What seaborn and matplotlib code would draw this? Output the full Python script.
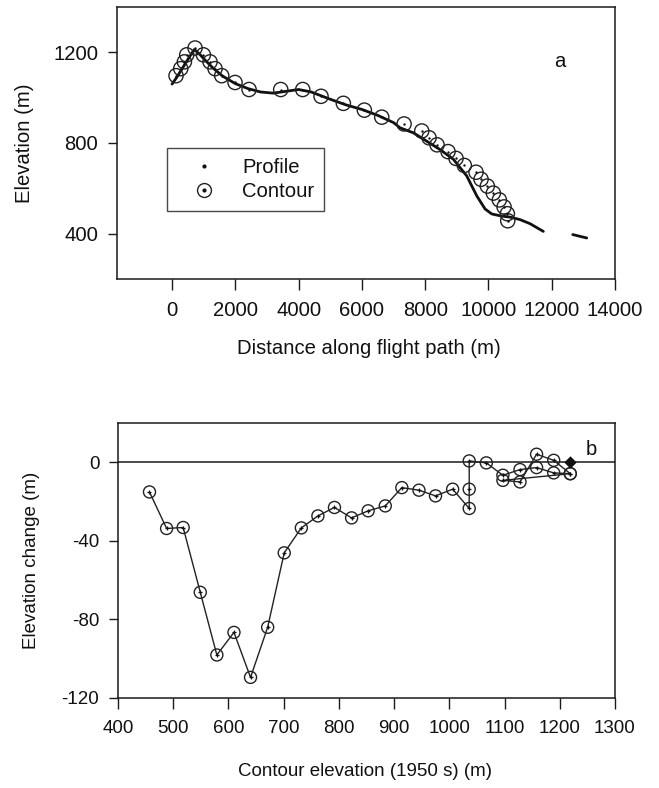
import numpy as np
import pandas as pd
import matplotlib
matplotlib.use("Agg")
import matplotlib.pyplot as plt
from matplotlib.lines import Line2D
import seaborn as sns

# ---------------- data: panel a ----------------
# flight profile (distance m, elevation m), segment id for gaps
profile_dist = [0, 150, 350, 550, 700, 850, 1050, 1300, 1600, 2000, 2400, 2800,
                3200, 3600, 4000, 4400, 5000, 5500, 6000, 6500, 7000, 7206, 7627,
                8049, 8470, 8893, 9313, 9630, 9893, 10104, 10400, 10683, 10999,
                11315, 11735,
                12664, 12900, 13106]
profile_elev = [1060, 1090, 1135, 1180, 1212, 1195, 1165, 1130, 1095, 1062, 1040,
                1025, 1020, 1028, 1036, 1025, 993, 968, 948, 922, 890, 867, 845,
                808, 771, 728, 655, 567, 509, 487, 478, 473, 462,
                444, 410,
                396, 388, 381]
profile_seg = [0] * 35 + [1] * 3

# 1950s contours crossed by the path (distance m, contour elevation m)
contour_dist = [126, 274, 390, 464, 727, 990, 1201, 1359, 1570, 1991, 2434, 3435,
                4130, 4709, 5414, 6078, 6628, 7333, 7892, 8123, 8376, 8723, 8976,
                9238, 9608, 9766, 9965, 10155, 10345, 10493, 10597, 10610]
contour_elev = [1097, 1128, 1158, 1189, 1219, 1189, 1158, 1128, 1097, 1067, 1036,
                1036, 1036, 1006, 975, 945, 914, 884, 853, 823, 792, 762, 732,
                701, 671, 640, 610, 579, 549, 518, 488, 457]

# ---------------- data: panel b ----------------
b_contour = [457, 488, 518, 549, 579, 610, 640, 671, 701, 732, 762, 792, 823, 853,
             884, 914, 945, 975, 1006, 1036, 1036, 1036, 1067, 1097, 1128, 1158,
             1189, 1219, 1097, 1128, 1158, 1189, 1219]
b_change = [-15.1, -33.7, -33.2, -66.2, -98.1, -86.6, -109.5, -84.0, -46.1, -33.4,
            -27.3, -23.0, -28.3, -24.7, -22.2, -12.9, -14.2, -17.1, -13.7, -23.5,
            -13.7, 0.7, -0.3, -6.6, -3.7, -2.7, -5.4, -5.8, -9.2, -10.0, 4.1, 1.0,
            -5.8]
summit_x = [1219]
summit_y = [0]

a_xticks = [0, 2000, 4000, 6000, 8000, 10000, 12000, 14000]
a_yticks = [400, 800, 1200]
b_xticks = [400, 500, 600, 700, 800, 900, 1000, 1100, 1200, 1300]
b_yticks = [-120, -80, -40, 0]

# ---------------- style ----------------
sns.set_theme(style="white")
plt.rcParams["font.family"] = ["Liberation Sans", "DejaVu Sans"]
plt.rcParams["axes.unicode_minus"] = False
FSA = 14.6   # panel a text
FSB = 13.5   # panel b text
ink = "#1a1a1a"
txt = "#111111"

W, H = 659, 788
fig = plt.figure(figsize=(W / 100, H / 100), dpi=100)
fig.patch.set_facecolor("white")

def fx(px):
    return px / W

def fy(py):
    return 1 - py / H

axa = fig.add_axes([fx(117), fy(279), fx(615) - fx(117), fy(7) - fy(279)])
axb = fig.add_axes([fx(118), fy(698), fx(615) - fx(118), fy(423) - fy(698)])

for ax, fs in ((axa, FSA), (axb, FSB)):
    ax.set_facecolor("white")
    for s in ax.spines.values():
        s.set_color(ink)
        s.set_linewidth(1.1)
        s.set_visible(True)
    ax.tick_params(axis="both", which="major", direction="out", colors=ink,
                   labelcolor=txt, labelsize=fs, width=1.0)
    ax.tick_params(axis="x", length=8, pad=7.5, bottom=True)
    ax.tick_params(axis="y", length=6.5, pad=7, left=True)
    ax.grid(False)

# ---- panel a ----
prof = pd.DataFrame({"d": profile_dist, "e": profile_elev, "seg": profile_seg})
sns.lineplot(data=prof, x="d", y="e", units="seg", estimator=None, sort=False,
             color=txt, linewidth=2.0, ax=axa, legend=False)
sns.scatterplot(x=contour_dist, y=contour_elev, marker="o", s=105,
                facecolor="none", edgecolor="#222222", linewidth=1.0, ax=axa,
                zorder=3)
sns.scatterplot(x=contour_dist, y=contour_elev, marker="o", s=3, color=txt,
                linewidth=0, ax=axa, zorder=4)
axa.set_xlim(-1740, 14000)
axa.set_ylim(200, 1400)
axa.set_xticks(a_xticks)
axa.set_yticks(a_yticks)
axa.set_xticklabels([str(v) for v in a_xticks])
axa.set_yticklabels([str(v) for v in a_yticks])
axa.set_xlabel("Distance along flight path (m)", fontsize=FSA, color=txt)
axa.set_ylabel("Elevation (m)", fontsize=FSA, color=txt)
axa.xaxis.set_label_coords(fx(369), fy(339), transform=fig.transFigure)
axa.yaxis.set_label_coords(fx(34), fy(143), transform=fig.transFigure)
axa.text(0.889, 0.8, "a", transform=axa.transAxes, fontsize=FSA,
         ha="center", va="center", color=txt)

h_prof = Line2D([], [], linestyle="none", marker="o", markersize=2, color=txt)
h_circ = Line2D([], [], linestyle="none", marker="o", markersize=10,
                markerfacecolor="none", markeredgecolor="#222222",
                markeredgewidth=1.0)
h_dot = Line2D([], [], linestyle="none", marker="o", markersize=2, color=txt)
leg = axa.legend([h_prof, (h_circ, h_dot)], ["Profile", "Contour"],
                 loc="upper left", bbox_to_anchor=(fx(167), fy(148)),
                 bbox_transform=fig.transFigure, borderaxespad=0,
                 fontsize=FSA, frameon=True, fancybox=False,
                 borderpad=0.5, handlelength=2.6, handletextpad=0.6,
                 labelspacing=0.25)
leg.get_frame().set_edgecolor(ink)
leg.get_frame().set_linewidth(1.0)
for t in leg.get_texts():
    t.set_color(txt)

# ---- panel b ----
axb.axhline(0, color=ink, linewidth=1.1, zorder=1)
sns.lineplot(x=b_contour, y=b_change, sort=False, estimator=None,
             color="#222222", linewidth=1.0, ax=axb, legend=False)
sns.scatterplot(x=b_contour, y=b_change, marker="o", s=75, facecolor="none",
                edgecolor="#222222", linewidth=1.0, ax=axb, zorder=3)
sns.scatterplot(x=b_contour, y=b_change, marker="+", s=12, color=txt,
                linewidth=0.9, ax=axb, zorder=4)
sns.scatterplot(x=summit_x, y=summit_y, marker="D", s=40, color=txt,
                linewidth=0, ax=axb, zorder=5)
axb.set_xlim(400, 1300)
axb.set_ylim(-120, 20)
axb.set_xticks(b_xticks)
axb.set_yticks(b_yticks)
axb.set_xticklabels([str(v) for v in b_xticks])
axb.set_yticklabels([str(v) for v in b_yticks])
axb.set_xlabel("Contour elevation (1950 s) (m)", fontsize=FSB, color=txt)
axb.set_ylabel("Elevation change (m)", fontsize=FSB, color=txt)
axb.xaxis.set_label_coords(fx(365), fy(763), transform=fig.transFigure)
axb.yaxis.set_label_coords(fx(40), fy(560), transform=fig.transFigure)
axb.text(0.953, 0.905, "b", transform=axb.transAxes, fontsize=FSB + 1,
         ha="center", va="center", color=txt)

fig.savefig("out.png", dpi=100, facecolor="white")
